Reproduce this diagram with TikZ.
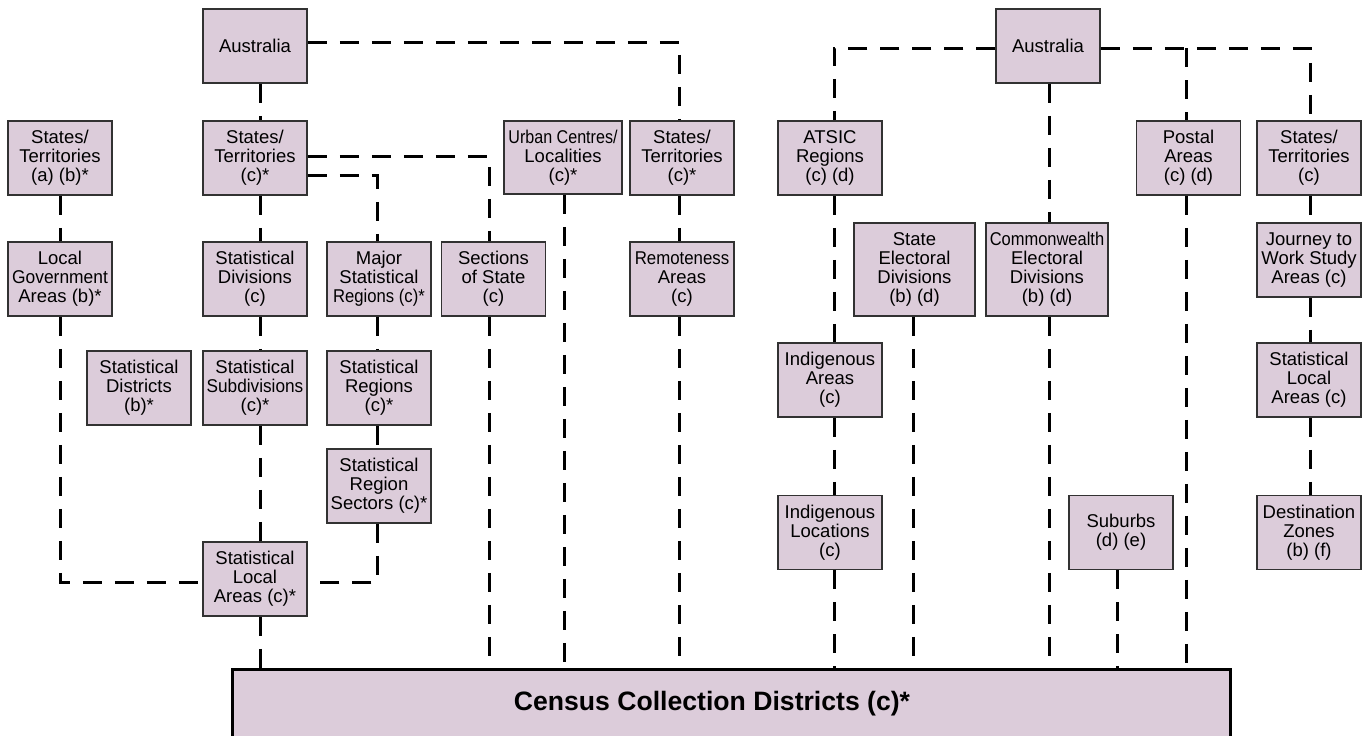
\documentclass[tikz,border=0pt]{standalone}
\usepackage{fontspec}
\setmainfont{Liberation Sans}
\usepackage{graphicx}
\definecolor{boxfill}{RGB}{220,204,218}
\definecolor{boxline}{RGB}{50,50,50}
\newcommand\cnd[2]{\scalebox{#1}[1]{#2}}
\begin{document}
\begin{tikzpicture}[x=1pt,y=-1pt,
  box/.style={draw=boxline, line width=1.5pt, fill=boxfill, minimum width=104pt,
    minimum height=74pt, inner sep=0pt, align=center,
    font=\fontsize{18.5}{19}\selectfont},
  link/.style={line width=3pt, dash pattern=on 19pt off 13pt}]
\useasboundingbox (0,0) rectangle (1369,736);

% left group
\node[box] (ausL) at (255,46) {Australia};
\node[box] (stA) at (60,158) {States/\\Territories\\(a) (b)*};
\node[box] (lga) at (60,279) {Local\\\cnd{0.94}{Government}\\Areas (b)*};
\node[box] (sdist) at (139,388) {Statistical\\Districts\\(b)*};
\node[box] (stC) at (255,158) {States/\\Territories\\(c)*};
\node[box] (sdiv) at (255,279) {Statistical\\Divisions\\(c)};
\node[box] (ssub) at (255,388) {Statistical\\\cnd{0.93}{Subdivisions}\\(c)*};
\node[box] (slaL) at (255,579) {Statistical\\Local\\Areas (c)*};
\node[box] (msr) at (379,279) {Major\\Statistical\\\cnd{0.9}{Regions (c)*}};
\node[box] (sreg) at (379,388) {Statistical\\Regions\\(c)*};
\node[box] (srs) at (379,486) {Statistical\\Region\\Sectors (c)*};
\node[box] (sos) at (493.5,279) {Sections\\of State\\(c)};
\node[box, minimum width=118pt, minimum height=73pt] (ucl) at (563,157.5) {\cnd{0.87}{Urban Centres/}\\Localities\\(c)*};
\node[box] (stM) at (682,158) {States/\\Territories\\(c)*};
\node[box] (remo) at (682,279) {\cnd{0.91}{Remoteness}\\Areas\\(c)};

% right group
\node[box] (ausR) at (1048,46) {Australia};
\node[box] (atsic) at (830,158) {ATSIC\\Regions\\(c) (d)};
\node[box] (ia) at (830,380) {Indigenous\\Areas\\(c)};
\node[box] (il) at (830,532.5) {Indigenous\\Locations\\(c)};
\node[box, minimum width=121pt, minimum height=93pt] (sed) at (914.5,269.5) {State\\Electoral\\Divisions\\(b) (d)};
\node[box, minimum width=122pt, minimum height=93pt] (ced) at (1047,269.5) {\cnd{0.89}{Commonwealth}\\Electoral\\Divisions\\(b) (d)};
\node[box] (postal) at (1188.5,158) {Postal\\Areas\\(c) (d)};
\node[box] (stR) at (1309,158) {States/\\Territories\\(c)};
\node[box] (jtw) at (1309,260) {Journey to\\Work Study\\Areas (c)};
\node[box] (slaR) at (1309,380) {Statistical\\Local\\Areas (c)};
\node[box] (dz) at (1309,532.5) {Destination\\Zones\\(b) (f)};
\node[box] (sub) at (1121,532.5) {Suburbs\\(d) (e)};

% census
\node[draw=black, line width=3pt, fill=boxfill, minimum width=998pt, minimum height=70pt,
  inner sep=0pt, font=\fontsize{26.6}{30}\selectfont\bfseries] (census) at (731,704)
  {\hspace*{-38pt}Census Collection Districts (c)*};

% connectors, left
\draw[link] ([yshift=4pt]ausL.east) -| ([xshift=-3pt]stM.north);
\draw[link] ([xshift=5pt]ausL.south) -- ([xshift=5pt]stC.north);
\draw[link] ([yshift=2pt]stC.east) -| ([xshift=-4.5pt]sos.north);
\draw[link] ([yshift=-17pt]stC.east) -| ([xshift=-2pt]msr.north);
\draw[link] ([xshift=5pt]stC.south) -- ([xshift=5pt]sdiv.north);
\draw[link] ([xshift=5pt]sdiv.south) -- ([xshift=5pt]ssub.north);
\draw[link] ([xshift=5pt]ssub.south) -- ([xshift=5pt]slaL.north);
\draw[link] ([xshift=5pt]slaL.south) -- ([xshift=5pt]slaL.south |- census.north);
\draw[link] (stA.south) -- (lga.north);
\draw[link] (lga.south) |- ([yshift=-3pt]slaL.west);
\draw[link] ([xshift=-2pt]msr.south) -- ([xshift=-2pt]sreg.north);
\draw[link] ([xshift=-2pt]sreg.south) -- ([xshift=-2pt]srs.north);
\draw[link] ([xshift=-2pt]srs.south) |- ([yshift=-3pt]slaL.east);
\draw[link] ([xshift=-4.5pt]sos.south) -- ([xshift=-4.5pt]sos.south |- census.north);
\draw[link] ([xshift=1pt]ucl.south) -- ([xshift=1pt]ucl.south |- census.north);
\draw[link] ([xshift=-3pt]stM.south) -- ([xshift=-3pt]remo.north);
\draw[link] ([xshift=-3pt]remo.south) -- ([xshift=-3pt]remo.south |- census.north);

% connectors, right
\draw[link] ([yshift=-2pt]ausR.west) -| ([xshift=4pt]atsic.north);
\draw[link] ([xshift=4pt]atsic.south) -- ([xshift=4pt]ia.north);
\draw[link] ([xshift=4pt]ia.south) -- ([xshift=4pt]il.north);
\draw[link] ([xshift=4pt]il.south) -- ([xshift=4pt]il.south |- census.north);
\draw[link] ([xshift=-1.5pt]sed.south) -- ([xshift=-1.5pt]sed.south |- census.north);
\draw[link] ([xshift=1pt]ausR.south) -- ([xshift=1pt]ausR.south |- ced.north);
\draw[link] ([xshift=2pt]ced.south) -- ([xshift=2pt]ced.south |- census.north);
\coordinate (rj) at ([yshift=-2pt]ausR.east);
\draw[link] (rj) -| ([xshift=1pt]stR.north);
\coordinate (pbr) at ([xshift=-2.5pt]postal.north |- rj);
\draw[link] (pbr) -- ([xshift=-2.5pt]postal.north);
\draw[link] ([xshift=-2.5pt]postal.south) -- ([xshift=-2.5pt]postal.south |- census.north);
\draw[link] ([xshift=1pt]stR.south) -- ([xshift=1pt]jtw.north);
\draw[link] ([xshift=1pt]jtw.south) -- ([xshift=1pt]slaR.north);
\draw[link] ([xshift=1pt]slaR.south) -- ([xshift=1pt]dz.north);
\draw[link] ([xshift=-4pt]sub.south) -- ([xshift=-4pt]sub.south |- census.north);
\end{tikzpicture}
\end{document}
